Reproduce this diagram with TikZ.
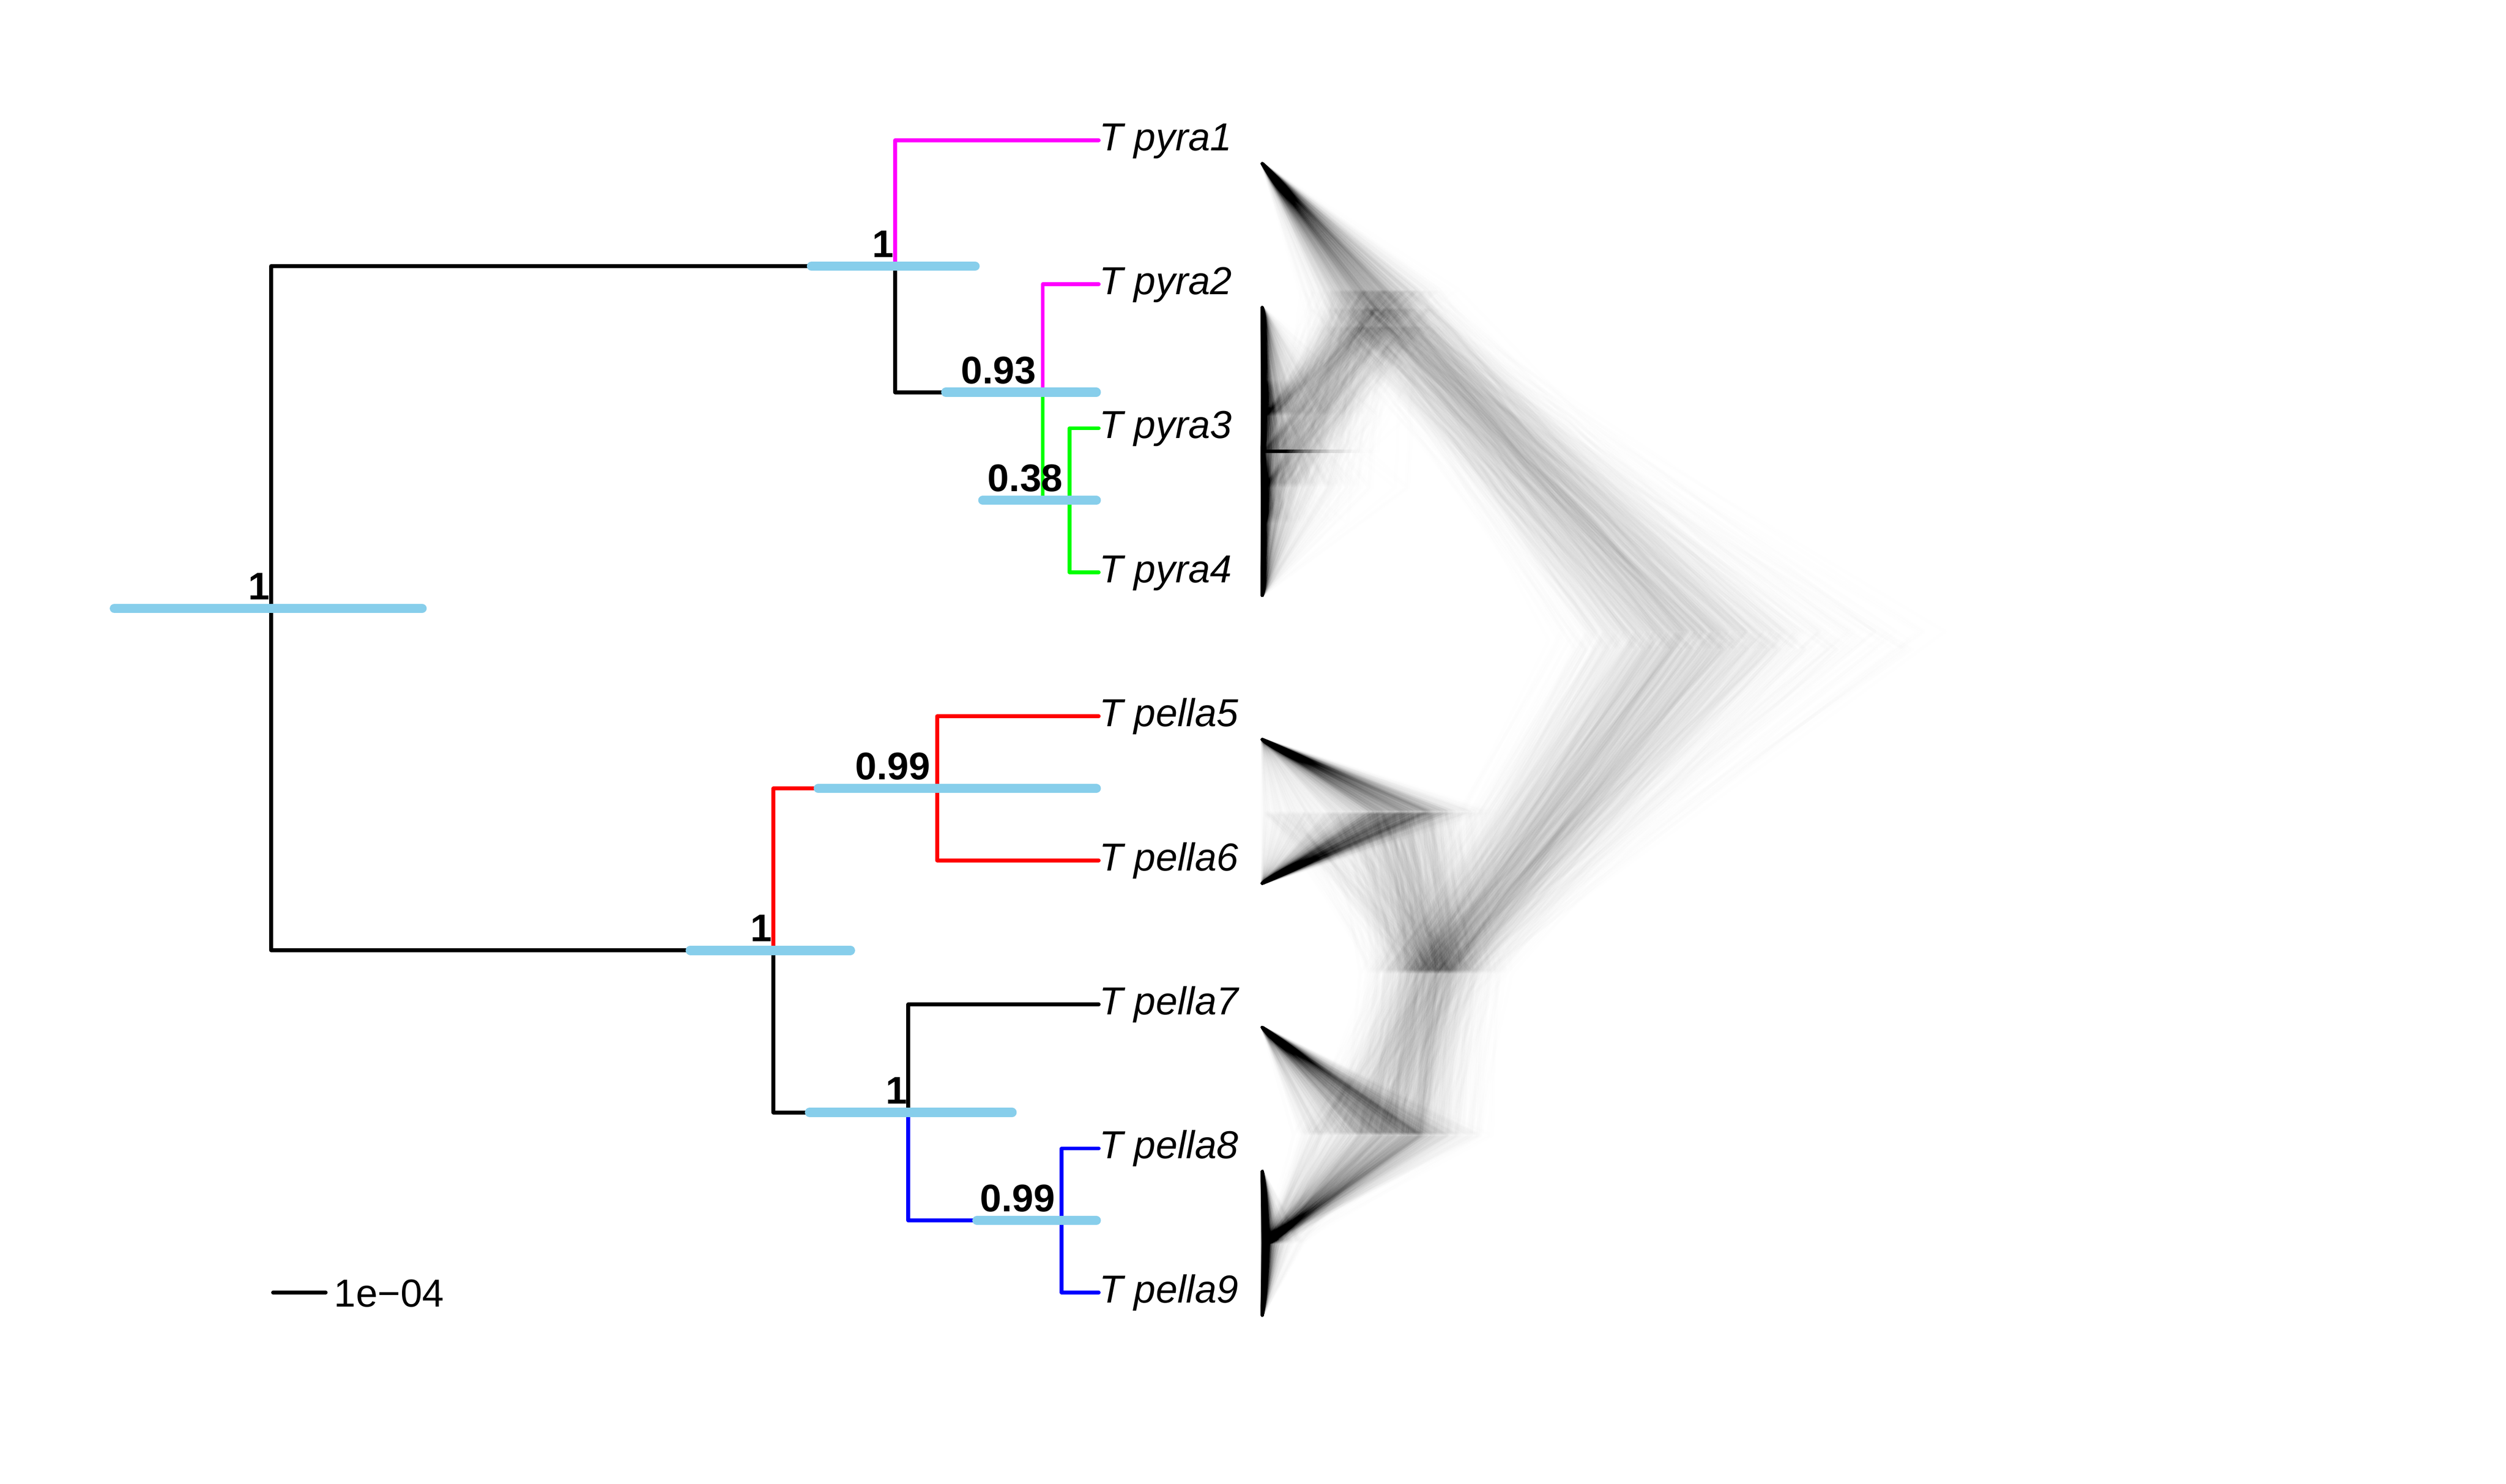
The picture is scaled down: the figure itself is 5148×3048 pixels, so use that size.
\documentclass[tikz,border=0pt]{standalone}
\usepackage{fontspec}
\setmainfont{Liberation Sans}
\definecolor{hpdblue}{HTML}{87CEEB}
\definecolor{mag}{HTML}{FF00FF}
\definecolor{grn}{HTML}{00FF00}
\definecolor{rd}{HTML}{FF0000}
\definecolor{bl}{HTML}{0000FF}
\begin{document}
\begin{tikzpicture}[x=0.01cm,y=-0.01cm,
  branch/.style={line width=0.08cm, line cap=round, line join=round},
  hpd/.style={line width=0.19cm, line cap=round, hpdblue},
  dtline/.style={line width=0.07cm, line join=round, line cap=round, black, opacity=0.0048},
  tiplab/.style={font=\fontsize{22.8pt}{27pt}\selectfont\itshape, anchor=base west, inner sep=0pt},
  sup/.style={font=\fontsize{22.5pt}{27pt}\selectfont\bfseries, anchor=base east, inner sep=0pt},
  sblab/.style={font=\fontsize{22.8pt}{27pt}\selectfont, anchor=base west, inner sep=0pt}]
\fill[white] (0,0) rectangle (5148,3048);
\useasboundingbox (0,0) rectangle (5148,3048);

% ---------- densitree ----------
\pgfmathsetseed{4242}
\foreach \i in {1,...,1300}{
  \pgfmathsetmacro\gA{1.732*(rnd+rnd+rnd+rnd-2)}
  \pgfmathsetmacro\gB{1.732*(rnd+rnd+rnd+rnd-2)}
  \pgfmathsetmacro\gC{1.732*(rnd+rnd+rnd+rnd-2)}
  \pgfmathsetmacro\gD{1.732*(rnd+rnd+rnd+rnd-2)}
  \pgfmathsetmacro\gE{1.732*(rnd+rnd+rnd+rnd-2)}
  \pgfmathsetmacro\gF{1.732*(rnd+rnd+rnd+rnd-2)}
  \pgfmathsetmacro\sc{1+0.11*\gA}
  \pgfmathsetmacro\hR{880*\sc*(1+0.035*\gF)+(rnd<0.12)*350*rnd}
  \pgfmathsetmacro\hP{max(80,min(\hR-150,240*\sc+50*\gB))}
  \pgfmathsetmacro\hPe{max(200,min(\hR-120,355*\sc+35*\gC))}
  \pgfmathsetmacro\hO{max(0,min(\hP-15,-55*ln(rnd+0.002)))}
  \pgfmathsetmacro\hI{\hO*rnd*rnd}
  \pgfmathsetmacro\uS{rnd}
  \pgfmathsetmacro\hS{max(0,\uS<0.35 ? \hPe*rnd : \hPe*(1-abs(0.22*\gD))-5)}
  \pgfmathsetmacro\uV{rnd}
  \pgfmathsetmacro\hV{max(20,\uV<0.35 ? \hPe*(0.25+0.75*rnd) : \hPe*(1-abs(0.25*\gE))-5)}
  \pgfmathsetmacro\hN{max(0,min(\hV-10,-14*ln(rnd+0.002)))}
  \pgfmathsetmacro\tp{rnd}
  \pgfmathsetmacro\yA{\tp<0.4 ? 927.5 : 631.75}
  \pgfmathsetmacro\yB{\tp<0.7 ? 1223.25 : 927.5}
  \pgfmathsetmacro\yC{\tp<0.4 ? 631.75 : (\tp<0.7 ? 927.5 : 1223.25)}
  \pgfmathsetmacro\yI{(\yA+\yB)/2}
  \pgfmathsetmacro\yO{(\yI+\yC)/2}
  \pgfmathsetmacro\yP{(336+\yO)/2}
  \pgfmathsetmacro\yR{(\yP+1999.6)/2}
  \pgfmathsetmacro\xR{2593+\hR}
  \pgfmathsetmacro\xP{2593+\hP}
  \pgfmathsetmacro\xPe{2593+\hPe}
  \pgfmathsetmacro\xO{2593+\hO}
  \pgfmathsetmacro\xI{2593+\hI}
  \pgfmathsetmacro\xS{2593+\hS}
  \pgfmathsetmacro\xV{2593+\hV}
  \pgfmathsetmacro\xN{2593+\hN}
  \draw[dtline] (2593,336) -- (\xP,\yP) -- (\xR,\yR) -- (\xPe,1999.6) -- (\xS,1666.9) -- (2593,1519)
    (\xS,1666.9) -- (2593,1814.75)
    (\xPe,1999.6) -- (\xV,2332.3) -- (2593,2110.5)
    (\xV,2332.3) -- (\xN,2554.1) -- (2593,2406.25)
    (\xN,2554.1) -- (2593,2702)
    (\xP,\yP) -- (\xO,\yO) -- (2593,\yC)
    (\xO,\yO) -- (\xI,\yI) -- (2593,\yA)
    (\xI,\yI) -- (2593,\yB);
}

% ---------- phylogram coordinates ----------
\coordinate (root)  at (557,1249.7);
\coordinate (pyra)  at (1839,546.9);
\coordinate (n234)  at (2142,805.8);
\coordinate (n34)   at (2197,1027.75);
\coordinate (pella) at (1589,1952.4);
\coordinate (n56)   at (1925,1619.55);
\coordinate (n789)  at (1866,2285.3);
\coordinate (n89)   at (2181,2507.25);
\coordinate (t1) at (2257,288);
\coordinate (t2) at (2257,583.9);
\coordinate (t3) at (2257,879.8);
\coordinate (t4) at (2257,1175.7);
\coordinate (t5) at (2257,1471.6);
\coordinate (t6) at (2257,1767.5);
\coordinate (t7) at (2257,2063.4);
\coordinate (t8) at (2257,2359.3);
\coordinate (t9) at (2257,2655.2);

% ---------- branches ----------
\draw[branch] (root) |- (pyra);
\draw[branch] (root) |- (pella);
\draw[branch,mag] (pyra) |- (t1);
\draw[branch] (pyra) |- (n234);
\draw[branch,mag] (n234) |- (t2);
\draw[branch,grn] (n234) |- (n34);
\draw[branch,grn] (n34) |- (t3);
\draw[branch,grn] (n34) |- (t4);
\draw[branch,rd] (pella) |- (n56);
\draw[branch,rd] (n56) |- (t5);
\draw[branch,rd] (n56) |- (t6);
\draw[branch] (pella) |- (n789);
\draw[branch] (n789) |- (t7);
\draw[branch,bl] (n789) |- (n89);
\draw[branch,bl] (n89) |- (t8);
\draw[branch,bl] (n89) |- (t9);

% ---------- HPD bars ----------
\draw[hpd] (235,1249.7) -- (867,1249.7);
\draw[hpd] (1667,546.9) -- (2003,546.9);
\draw[hpd] (1943,805.8) -- (2252,805.8);
\draw[hpd] (2019,1027.75) -- (2252,1027.75);
\draw[hpd] (1418,1952.4) -- (1747,1952.4);
\draw[hpd] (1681,1619.55) -- (2252,1619.55);
\draw[hpd] (1663,2285.3) -- (2079,2285.3);
\draw[hpd] (2007,2507.25) -- (2252,2507.25);

% ---------- support values ----------
\node[sup] (sroot)  at (555,1231.7) {1};
\node[sup] (spyra)  at (1837,528.9) {1};
\node[sup] (s234)   at (2129,787.8) {0.93};
\node[sup] (s34)    at (2184,1009.75) {0.38};
\node[sup] (spella) at (1587,1934.4) {1};
\node[sup] (s56)    at (1912,1601.5) {0.99};
\node[sup] (s789)   at (1864,2267.3) {1};
\node[sup] (s89)    at (2168,2489.25) {0.99};

% ---------- tip labels ----------
\node[tiplab] (L1) at (2258,309)    {T pyra1};
\node[tiplab] (L2) at (2258,604.9)  {T pyra2};
\node[tiplab] (L3) at (2258,900.8)  {T pyra3};
\node[tiplab] (L4) at (2258,1196.7) {T pyra4};
\node[tiplab] (L5) at (2258,1492.6) {T pella5};
\node[tiplab] (L6) at (2258,1788.5) {T pella6};
\node[tiplab] (L7) at (2258,2084.4) {T pella7};
\node[tiplab] (L8) at (2258,2380.3) {T pella8};
\node[tiplab] (L9) at (2258,2676.2) {T pella9};

% ---------- scale bar ----------
\coordinate (sb1) at (561,2655.2);
\coordinate (sb2) at (669,2655.2);
\draw[branch] (sb1) -- (sb2);
\node[sblab] (sbl) at (686,2685) {1e−04};
\end{tikzpicture}
\end{document}
